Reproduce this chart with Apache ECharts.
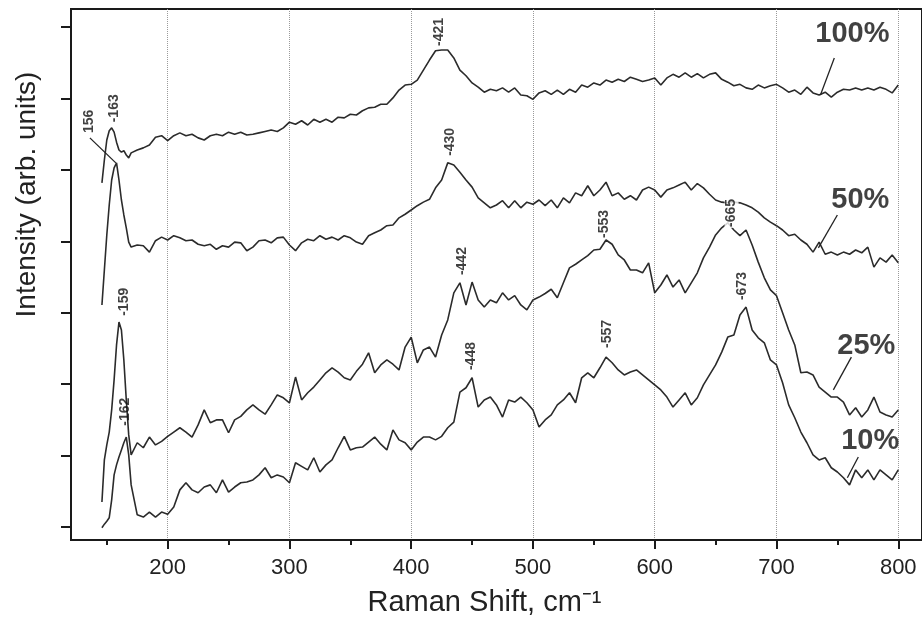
<!DOCTYPE html>
<html>
<head>
<meta charset="utf-8">
<script src="https://cdn.jsdelivr.net/npm/echarts@6/dist/echarts.min.js"></script>
<style>
html,body{margin:0;padding:0;background:#fff;}
#chart{width:922px;height:623px;}
</style>
</head>
<body>
<div id="chart"></div>
<script>
// ---- data (Raman shift in cm^-1, intensity in arbitrary units) ----
var ramanShift = [146,148,150,152,154,156,158,160,162,164,166,168,170,
  175,180,185,190,195,200,205,210,215,220,225,230,235,240,245,250,255,260,265,270,
  275,280,285,290,295,300,305,310,315,320,325,330,335,340,345,350,355,360,365,370,
  375,380,385,390,395,400,405,410,415,420,425,430,435,440,445,450,455,460,465,470,
  475,480,485,490,495,500,505,510,515,520,525,530,535,540,545,550,555,560,565,570,
  575,580,585,590,595,600,605,610,615,620,625,630,635,640,645,650,655,660,665,670,
  675,680,685,690,695,700,705,710,715,720,725,730,735,740,745,750,755,760,765,770,
  775,780,785,790,795,800];

var int100 = [4.82,5.14,5.42,5.55,5.59,5.53,5.39,5.28,5.25,5.27,5.21,5.17,5.24,
  5.28,5.31,5.35,5.46,5.48,5.41,5.48,5.52,5.48,5.50,5.45,5.42,5.48,5.50,5.48,5.53,5.50,5.53,5.49,5.50,
  5.52,5.54,5.56,5.54,5.59,5.67,5.64,5.69,5.63,5.71,5.67,5.71,5.67,5.74,5.73,5.78,5.77,5.83,5.87,5.88,
  5.92,5.92,6.01,6.12,6.19,6.20,6.26,6.40,6.54,6.67,6.68,6.68,6.57,6.40,6.32,6.22,6.16,6.09,6.13,6.11,
  6.15,6.09,6.15,6.05,6.04,5.99,6.08,6.11,6.06,6.12,6.06,6.13,6.09,6.19,6.16,6.22,6.19,6.26,6.23,6.27,
  6.24,6.30,6.27,6.24,6.26,6.29,6.19,6.29,6.34,6.30,6.36,6.30,6.35,6.29,6.34,6.36,6.27,6.23,6.18,6.20,
  6.15,6.13,6.19,6.15,6.18,6.20,6.15,6.09,6.12,6.06,6.16,6.08,6.05,6.09,6.02,6.09,6.13,6.12,6.15,6.12,
  6.15,6.12,6.16,6.13,6.08,6.19];

var int50 = [3.11,3.60,4.09,4.51,4.86,5.03,5.10,4.86,4.58,4.37,4.19,3.99,3.92,
  3.95,3.94,3.85,4.01,4.06,4.02,4.08,4.05,4.01,4.02,3.96,3.94,3.96,3.89,3.94,3.92,3.99,3.98,3.87,3.92,
  4.01,4.02,3.98,4.05,4.06,3.95,3.87,3.98,4.03,4.01,4.08,4.03,4.06,4.02,4.08,4.05,3.99,3.96,4.08,4.12,
  4.16,4.22,4.23,4.33,4.38,4.44,4.50,4.55,4.59,4.75,4.86,5.10,5.07,4.97,4.86,4.76,4.61,4.54,4.47,4.51,
  4.57,4.47,4.57,4.47,4.55,4.52,4.58,4.50,4.58,4.47,4.61,4.54,4.68,4.64,4.78,4.64,4.72,4.83,4.64,4.68,
  4.59,4.64,4.58,4.72,4.76,4.72,4.62,4.72,4.75,4.79,4.83,4.72,4.81,4.75,4.66,4.58,4.55,4.54,4.55,4.54,
  4.51,4.47,4.41,4.33,4.27,4.22,4.16,4.08,4.10,4.02,3.96,3.85,3.99,3.82,3.85,3.81,3.85,3.82,3.88,3.84,
  3.92,3.64,3.77,3.71,3.81,3.70];

var int25 = [0.35,0.94,1.15,1.33,1.64,2.06,2.55,2.87,2.76,2.34,1.78,1.29,1.01,
  1.18,1.11,1.26,1.15,1.20,1.27,1.33,1.39,1.33,1.26,1.43,1.64,1.46,1.50,1.50,1.32,1.50,1.55,1.64,1.71,
  1.64,1.58,1.71,1.85,1.81,1.74,2.10,1.78,1.88,1.96,2.06,2.16,2.23,2.17,2.09,2.06,2.18,2.28,2.44,2.16,
  2.27,2.34,2.28,2.20,2.52,2.66,2.30,2.48,2.52,2.38,2.69,2.90,3.28,3.42,3.11,3.43,3.18,3.08,3.18,3.14,
  3.28,3.18,3.24,3.11,3.04,3.18,3.22,3.27,3.33,3.21,3.42,3.63,3.68,3.74,3.80,3.88,3.89,4.02,3.96,3.81,
  3.74,3.60,3.60,3.56,3.70,3.28,3.39,3.53,3.36,3.46,3.28,3.42,3.56,3.77,3.92,4.09,4.19,4.26,4.16,4.08,
  4.16,3.95,3.71,3.49,3.32,3.24,3.00,2.76,2.55,2.16,2.17,2.13,1.96,1.89,1.82,1.82,1.75,1.57,1.67,1.54,
  1.64,1.82,1.61,1.57,1.54,1.64];

var int10 = [-0.01,0.04,0.08,0.13,0.38,0.73,0.87,0.98,1.08,1.18,1.26,1.01,0.59,
  0.17,0.14,0.21,0.14,0.21,0.18,0.28,0.52,0.62,0.52,0.48,0.56,0.59,0.48,0.66,0.49,0.56,0.62,0.63,0.66,
  0.73,0.83,0.69,0.73,0.70,0.62,0.90,0.85,0.80,0.97,0.77,0.87,0.94,1.11,1.27,1.08,1.11,1.12,1.19,1.26,
  1.16,1.08,1.36,1.22,1.18,1.08,1.19,1.26,1.26,1.22,1.27,1.39,1.47,1.89,1.95,2.09,1.68,1.78,1.82,1.71,
  1.54,1.78,1.75,1.82,1.74,1.64,1.40,1.50,1.57,1.71,1.78,1.88,1.74,2.09,2.16,2.09,2.23,2.38,2.30,2.20,
  2.13,2.17,2.20,2.13,2.06,1.99,1.92,1.82,1.68,1.78,1.88,1.71,1.81,1.99,2.13,2.27,2.45,2.66,2.69,2.97,
  3.08,2.76,2.65,2.58,2.34,2.27,2.02,1.71,1.53,1.33,1.18,1.01,0.94,0.97,0.83,0.77,0.69,0.59,0.80,0.69,
  0.80,0.66,0.80,0.73,0.66,0.80];

// peak annotations
var peakShift = [423.0, 155.7, 135.2, 432.0, 163.9, 164.8, 441.8, 558.2, 663.1, 449.2, 560.7, 672.1];
var peakLevel = [6.71, 5.64, 5.49, 5.17, 2.93, 1.39, 3.50, 4.02, 4.16, 2.17, 2.48, 3.15];
var peakText  = ['-421','-163','156','-430','-159','-162','-442','-553','-665','-448','-557','-673'];

// concentration labels
var concText  = ['100%','50%','25%','10%'];
var concShift = [762.3, 768.9, 773.8, 777.0];
var concLevel = [6.90, 4.58, 2.54, 1.20];

// leader lines [x1,y1,x2,y2]
var leaderX1 = [136.1, 747.5, 750.0, 761.5, 767.2];
var leaderY1 = [5.45, 6.57, 4.37, 2.38, 0.98];
var leaderX2 = [157.4, 736.1, 734.4, 746.7, 758.2];
var leaderY2 = [5.10, 6.05, 3.91, 1.92, 0.69];

// axis ticks
var xTicks = [200, 300, 400, 500, 600, 700, 800];
var xMinorTicks = [150, 250, 350, 450, 550, 650, 750];
var yTicks = [0, 1, 2, 3, 4, 5, 6, 7];

// ---- chart ----
var chart = echarts.init(document.getElementById('chart'), null, {renderer: 'canvas'});
var FONT = 'Liberation Sans, Arial, Helvetica, sans-serif';
var lineColor = '#2b2b2b';

function spectrum(name, ys) {
  return {
    name: name, type: 'line', symbol: 'none', smooth: false,
    data: ramanShift.map(function (x, i) { return [x, ys[i]]; }),
    lineStyle: {color: lineColor, width: 1.6},
    z: 3, silent: true
  };
}

var series = [
  spectrum('100%', int100),
  spectrum('50%', int50),
  spectrum('25%', int25),
  spectrum('10%', int10)
];

for (var k = 0; k < leaderX1.length; k++) {
  series.push({
    type: 'line', symbol: 'none', silent: true, z: 4,
    data: [[leaderX1[k], leaderY1[k]], [leaderX2[k], leaderY2[k]]],
    lineStyle: {color: '#222', width: 1.3}
  });
}

series.push({
  type: 'scatter', symbolSize: 0, silent: true, z: 6,
  data: peakShift.map(function (x, i) {
    var item = {value: [x, peakLevel[i]], name: peakText[i]};
    if (peakText[i] === '-665') {
      item.label = {backgroundColor: '#fff', padding: [0, 1, 0, 1]};
    }
    return item;
  }),
  label: {
    show: true, position: 'top', distance: 2, rotate: 90,
    align: 'left', verticalAlign: 'middle',
    formatter: function (p) { return p.name; },
    fontFamily: FONT, fontSize: 14, fontWeight: 'bold', color: '#111'
  }
});

series.push({
  type: 'scatter', symbolSize: 0, silent: true, z: 6,
  data: concShift.map(function (x, i) { return {value: [x, concLevel[i]], name: concText[i]}; }),
  label: {
    show: true, position: 'inside',
    formatter: function (p) { return p.name; },
    fontFamily: FONT, fontSize: 29, fontWeight: 'bold', color: '#111'
  }
});

chart.setOption({
  animation: false,
  backgroundColor: '#fff',
  grid: {
    left: 71, right: -3, top: 9, bottom: 83,
    show: true, borderColor: '#1a1a1a', borderWidth: 2, backgroundColor: 'transparent'
  },
  xAxis: [{
    type: 'value', min: 120.6, max: 819.5, position: 'bottom',
    name: 'Raman Shift, cm\u207B\u00B9', nameLocation: 'middle', nameGap: 48,
    nameTextStyle: {fontFamily: FONT, fontSize: 29, color: '#222', padding: [0, 24, 0, 0]},
    axisLine: {show: true, onZero: false, lineStyle: {color: '#1a1a1a', width: 2}},
    axisTick: {show: true, customValues: xTicks, length: 9, lineStyle: {color: '#1a1a1a', width: 2}},
    axisLabel: {show: true, customValues: xTicks, margin: 17, fontFamily: FONT, fontSize: 22, color: '#222'},
    splitLine: {show: true, lineStyle: {type: 'dotted', color: '#9a9a9a', width: 1}}
  }, {
    type: 'value', min: 120.6, max: 819.5, position: 'bottom',
    axisLine: {show: false, onZero: false},
    axisTick: {show: true, customValues: xMinorTicks, length: 5, lineStyle: {color: '#1a1a1a', width: 2}},
    axisLabel: {show: false},
    splitLine: {show: false}
  }],
  yAxis: {
    type: 'value', min: -0.182, max: 7.255,
    name: 'Intensity (arb. units)', nameLocation: 'middle', nameGap: 30, nameRotate: 90,
    nameTextStyle: {fontFamily: FONT, fontSize: 28, color: '#222', padding: [0, 0, 0, 160]},
    axisLine: {show: true, onZero: false, lineStyle: {color: '#1a1a1a', width: 2}},
    axisTick: {show: true, customValues: yTicks, length: 10, lineStyle: {color: '#1a1a1a', width: 2}},
    axisLabel: {show: false},
    splitLine: {show: false}
  },
  series: series
});
</script>
</body>
</html>
